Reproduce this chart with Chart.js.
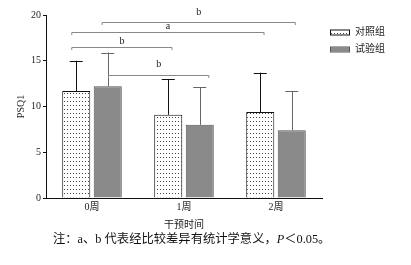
<!DOCTYPE html>
<html>
<head>
<meta charset="utf-8">
<script src="https://cdn.jsdelivr.net/npm/chart.js@4"></script>
<style>
  html, body { margin: 0; padding: 0; background: #fff; }
  #wrap { width: 411px; height: 265px; position: relative; }
</style>
</head>
<body>
<div id="wrap"><canvas id="chart" width="411" height="265"></canvas></div>
<script>
const categories = ['0周', '1周', '2周'];
const controlMean = [11.7, 9.1, 9.4];
const controlSd = [3.3, 3.9, 4.3];
const testMean = [12.2, 8.0, 7.4];
const testSd = [3.7, 4.1, 4.3];
const yTicks = [0, 5, 10, 15, 20];
const seriesNames = ['对照组', '试验组'];
// significance brackets: x in category units, y in PSQ1 units
const brackets = [
    {from: 0.11, to: 2.21, y: 19.22, labelY: 20.3, label: 'b'},
    {from: -0.22, to: 1.87, y: 18.13, labelY: 18.75, label: 'a'},
    {from: -0.22, to: 0.87, y: 16.45, labelY: 17.15, label: 'b'},
    {from: 0.18, to: 1.27, y: 13.45, labelY: 14.6, label: 'b'}
];

const serif = "'Liberation Serif', 'Noto Sans CJK SC', serif";
const cjk = "'Liberation Serif', 'Noto Sans CJK SC', sans-serif";

function makeDots() {
    const c = document.createElement('canvas');
    c.width = 3; c.height = 4;
    const g = c.getContext('2d');
    g.fillStyle = '#fff';
    g.fillRect(0, 0, 3, 4);
    g.fillStyle = '#444';
    g.fillRect(1, 1, 1, 1);
    return document.getElementById('chart').getContext('2d').createPattern(c, 'repeat');
}
const dots = makeDots();

const errorBars = {
    id: 'errorBars',
    afterDatasetsDraw(chart) {
        const ctx = chart.ctx;
        const y = chart.scales.y;
        const sds = [controlSd, testSd];
        const colors = ['#111', '#666'];
        chart.data.datasets.forEach((ds, di) => {
            const meta = chart.getDatasetMeta(di);
            meta.data.forEach((bar, i) => {
                const top = y.getPixelForValue(ds.data[i] + sds[di][i]);
                ctx.save();
                ctx.strokeStyle = colors[di];
                ctx.lineWidth = 1;
                ctx.beginPath();
                ctx.moveTo(Math.round(bar.x) + 0.5, bar.y);
                ctx.lineTo(Math.round(bar.x) + 0.5, top);
                ctx.moveTo(bar.x - 6.5, Math.round(top) + 0.5);
                ctx.lineTo(bar.x + 6.5, Math.round(top) + 0.5);
                ctx.stroke();
                ctx.restore();
            });
        });
    }
};

const sigBrackets = {
    id: 'sigBrackets',
    afterDraw(chart) {
        const ctx = chart.ctx;
        const x = chart.scales.x, y = chart.scales.y;
        ctx.save();
        brackets.forEach(b => {
            const x1 = x.getPixelForValue(b.from), x2 = x.getPixelForValue(b.to);
            const py = Math.round(y.getPixelForValue(b.y)) + 0.5;
            ctx.strokeStyle = '#888';
            ctx.lineWidth = 1;
            ctx.beginPath();
            ctx.moveTo(x1, py + 2.5);
            ctx.lineTo(x1, py);
            ctx.lineTo(x2, py);
            ctx.lineTo(x2, py + 2.5);
            ctx.stroke();
            ctx.fillStyle = '#222';
            ctx.font = '10px ' + serif;
            ctx.textAlign = 'center';
            ctx.textBaseline = 'middle';
            ctx.fillText(b.label, (x1 + x2) / 2, y.getPixelForValue(b.labelY));
        });
        ctx.restore();
    }
};

const sideLegend = {
    id: 'sideLegend',
    afterDraw(chart) {
        const ctx = chart.ctx;
        const left = chart.chartArea.right + 8;
        ctx.save();
        chart.data.datasets.forEach((ds, i) => {
            const cy = 32.5 + i * 17;
            ctx.fillStyle = ds.backgroundColor;
            ctx.fillRect(left, cy - 2, 19, 4);
            ctx.strokeStyle = ds.borderColor;
            ctx.lineWidth = 1;
            ctx.strokeRect(left + 0.5, cy - 2.5, 19, 5);
            ctx.fillStyle = '#222';
            ctx.font = '10px ' + cjk;
            ctx.textAlign = 'left';
            ctx.textBaseline = 'middle';
            ctx.fillText(ds.label, left + 25, cy);
        });
        ctx.restore();
    }
};

const footnote = {
    id: 'footnote',
    afterDraw(chart) {
        const ctx = chart.ctx;
        const parts = [
            ['注：a、b 代表经比较差异有统计学意义，', 'normal'],
            ['P', 'italic'],
            ['＜0.05。', 'normal']
        ];
        let px = 53;
        ctx.save();
        ctx.fillStyle = '#111';
        ctx.textBaseline = 'middle';
        ctx.textAlign = 'left';
        parts.forEach(([t, style]) => {
            ctx.font = style + ' 12.3px ' + cjk;
            ctx.fillText(t, px, 239.5);
            px += ctx.measureText(t).width;
        });
        ctx.restore();
    }
};

new Chart(document.getElementById('chart'), {
    type: 'bar',
    data: {
        labels: categories,
        datasets: [
            {label: seriesNames[0], data: controlMean, backgroundColor: dots, borderColor: '#111', borderWidth: 1},
            {label: seriesNames[1], data: testMean, backgroundColor: '#8a8a8a', borderColor: '#555', borderWidth: 1}
        ]
    },
    options: {
        responsive: false,
        animation: false,
        events: [],
        layout: {padding: {left: 11, right: 89, top: 15, bottom: 30}},
        datasets: {bar: {categoryPercentage: 0.685, barPercentage: 0.89}},
        plugins: {legend: {display: false}, tooltip: {enabled: false}},
        scales: {
            x: {
                grid: {display: false, drawTicks: false},
                border: {display: true, color: '#111', width: 1},
                ticks: {font: {family: cjk, size: 10}, color: '#222', padding: 3},
                title: {display: true, text: '干预时间', font: {family: cjk, size: 10}, color: '#222', padding: {top: 3, bottom: 4}}
            },
            y: {
                min: 0, max: 20,
                afterBuildTicks: axis => { axis.ticks = yTicks.map(v => ({value: v})); },
                grid: {drawOnChartArea: false, drawTicks: true, tickLength: 3, color: '#111'},
                border: {display: true, color: '#111', width: 1},
                ticks: {font: {family: serif, size: 10}, color: '#222', padding: 2},
                title: {display: true, text: 'PSQ1', font: {family: serif, size: 10}, color: '#222', padding: {top: 4, bottom: 2}}
            }
        }
    },
    plugins: [errorBars, sigBrackets, sideLegend, footnote]
});
</script>
</body>
</html>
